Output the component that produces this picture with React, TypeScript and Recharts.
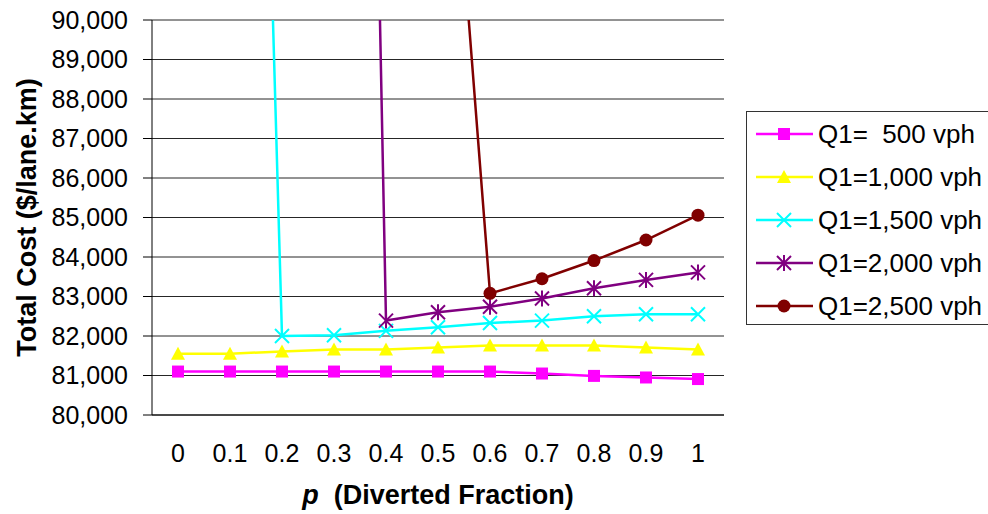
import React from 'react';
import { LineChart, Line, XAxis, YAxis, CartesianGrid, Legend } from 'recharts';

const categories = ['0', '0.1', '0.2', '0.3', '0.4', '0.5', '0.6', '0.7', '0.8', '0.9', '1'];
const q500 = [81100, 81100, 81100, 81100, 81100, 81100, 81100, 81050, 80990, 80950, 80910];
const q1000 = [81550, 81550, 81610, 81660, 81660, 81710, 81760, 81760, 81760, 81710, 81660];
const q1500 = [null, 128000, 82000, 82020, 82130, 82220, 82330, 82390, 82500, 82550, 82550];
const q2000 = [null, null, null, 148000, 82390, 82600, 82740, 82950, 83210, 83420, 83610];
const q2500 = [null, null, null, null, null, 100000, 83080, 83450, 83910, 84430, 85060];
const yTicks = [80000, 81000, 82000, 83000, 84000, 85000, 86000, 87000, 88000, 89000, 90000];
const edgeTicks = [0, 1, 2, 3, 4, 5, 6, 7, 8, 9, 10, 11];

const data = categories.map((p, i) => ({
  p,
  q500: q500[i],
  q1000: q1000[i],
  q1500: q1500[i],
  q2000: q2000[i],
  q2500: q2500[i],
}));

const series = [
  { key: 'q500', name: 'Q1=  500 vph', color: '#FF00FF', marker: 'square' },
  { key: 'q1000', name: 'Q1=1,000 vph', color: '#FFFF00', marker: 'triangle' },
  { key: 'q1500', name: 'Q1=1,500 vph', color: '#00FFFF', marker: 'cross' },
  { key: 'q2000', name: 'Q1=2,000 vph', color: '#800080', marker: 'star' },
  { key: 'q2500', name: 'Q1=2,500 vph', color: '#800000', marker: 'circle' },
];

const FONT = '"Liberation Sans", Arial, sans-serif';

const Marker = ({ kind, cx, cy, color }: any) => {
  switch (kind) {
    case 'square':
      return <rect x={cx - 6} y={cy - 6} width={12} height={12} fill={color} />;
    case 'triangle':
      return <polygon points={`${cx},${cy - 7} ${cx + 7},${cy + 6} ${cx - 7},${cy + 6}`} fill={color} />;
    case 'cross':
      return (
        <path
          d={`M${cx - 7},${cy - 7}L${cx + 7},${cy + 7}M${cx - 7},${cy + 7}L${cx + 7},${cy - 7}`}
          stroke={color}
          strokeWidth={2}
          fill="none"
        />
      );
    case 'star':
      return (
        <path
          d={`M${cx - 7},${cy - 7}L${cx + 7},${cy + 7}M${cx - 7},${cy + 7}L${cx + 7},${cy - 7}M${cx},${cy - 8}L${cx},${cy + 8}`}
          stroke={color}
          strokeWidth={2}
          fill="none"
        />
      );
    default:
      return <circle cx={cx} cy={cy} r={6.5} fill={color} />;
  }
};

const renderLegend = () => (
  <div style={{ border: '1px solid #333', boxSizing: 'border-box', width: 243, height: 214, background: '#fff' }}>
    <svg width={241} height={212}>
      {series.map((s, i) => {
        const y = 22 + i * 43;
        return (
          <g key={s.key}>
            <line x1={9} x2={66} y1={y} y2={y} stroke={s.color} strokeWidth={2.5} />
            <Marker kind={s.marker} cx={37} cy={y} color={s.color} />
            <text x={71} y={y} dy="0.36em" fontSize={26} fontFamily={FONT} fill="#000" style={{ whiteSpace: 'pre' }}>
              {s.name}
            </text>
          </g>
        );
      })}
    </svg>
  </div>
);

export default function App() {
  return (
    <div style={{ position: 'absolute', left: 0, top: 0, width: 988, height: 514, overflow: 'hidden', background: '#fff' }}>
      <LineChart width={988} height={514} data={data} margin={{ top: 20, right: 21, left: 0, bottom: 0 }}>
        <CartesianGrid horizontal vertical={false} stroke="#000" strokeOpacity={0.85} />
        <XAxis
          xAxisId="edges"
          type="number"
          domain={[0, 11]}
          ticks={edgeTicks}
          allowDataOverflow
          tick={false}
          tickSize={9}
          tickLine={{ stroke: '#000' }}
          axisLine={false}
          height={0}
        />
        <XAxis
          dataKey="p"
          padding={{ left: 26, right: 26 }}
          height={99}
          tickLine={false}
          tickSize={9}
          tickMargin={20}
          axisLine={{ stroke: '#000' }}
          tick={{ fill: '#000', fontSize: 25, fontFamily: FONT }}
          interval={0}
          label={({ viewBox }: any) => (
            <text
              x={viewBox.x + viewBox.width / 2}
              y={viewBox.y + 89}
              textAnchor="middle"
              fontSize={27}
              fontWeight="bold"
              fontFamily={FONT}
              fill="#000"
              style={{ whiteSpace: 'pre' }}
            >
              <tspan fontStyle="italic">p</tspan>
              <tspan>{'  (Diverted Fraction)'}</tspan>
            </text>
          )}
        />
        <YAxis
          domain={[80000, 90000]}
          ticks={yTicks}
          allowDataOverflow
          width={152}
          tickSize={9}
          tickMargin={15}
          tickLine={{ stroke: '#000' }}
          axisLine={{ stroke: '#000' }}
          tick={{ fill: '#000', fontSize: 25, fontFamily: FONT }}
          tickFormatter={(v: number) => v.toLocaleString('en-US')}
          label={({ viewBox }: any) => {
            const cx = viewBox.x + 27;
            const cy = viewBox.y + viewBox.height / 2;
            return (
              <text
                x={cx}
                y={cy}
                transform={`rotate(-90, ${cx}, ${cy})`}
                textAnchor="middle"
                dominantBaseline="central"
                fontSize={27}
                fontWeight="bold"
                fontFamily={FONT}
                fill="#000"
              >
                Total Cost ($/lane.km)
              </text>
            );
          }}
        />
        <YAxis
          yAxisId="frame"
          orientation="right"
          width={0}
          tick={false}
          tickLine={false}
          axisLine={{ stroke: '#000' }}
        />
        {series.map((s) => (
          <Line
            key={s.key}
            dataKey={s.key}
            name={s.name}
            stroke={s.color}
            strokeWidth={2.5}
            isAnimationActive={false}
            connectNulls={false}
            dot={(props: any) => {
              const { cx, cy, index, value } = props;
              if (cx == null || cy == null || value == null) return <g key={`${s.key}-${index}`} />;
              return <Marker key={`${s.key}-${index}`} kind={s.marker} cx={cx} cy={cy} color={s.color} />;
            }}
            activeDot={false}
          />
        ))}
        <Legend
          layout="vertical"
          align="right"
          verticalAlign="middle"
          content={renderLegend}
          wrapperStyle={{ left: 746, top: 111, width: 243, height: 214 }}
        />
      </LineChart>
    </div>
  );
}
